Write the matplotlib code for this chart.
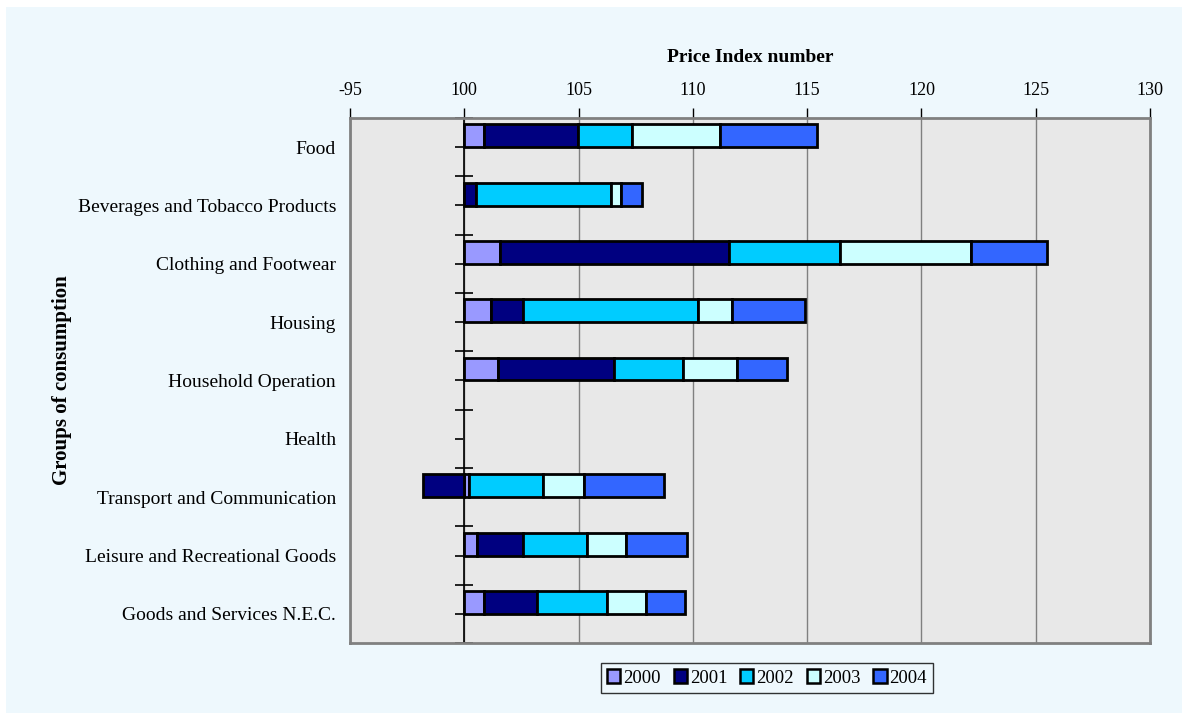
import numpy as np
import matplotlib
matplotlib.use("Agg")
import matplotlib.pyplot as plt
from matplotlib.patches import Rectangle

plt.rcParams['font.family'] = ['Liberation Serif', 'DejaVu Serif']

# categories (top to bottom)
groups = ["Food", "Beverages and Tobacco Products", "Clothing and Footwear", "Housing",
          "Household Operation", "Health", "Transport and Communication",
          "Leisure and Recreational Goods", "Goods and Services N.E.C."]
years = ["2000", "2001", "2002", "2003", "2004"]

# segment widths (bars start at 100)
v2000 = [0.86, 0.00, 1.57, 1.17, 1.46, 0, 0.20, 0.55, 0.86]
v2001 = [4.10, 0.51, 10.01, 1.40, 5.10, 0, -1.82, 2.02, 2.32]
v2002 = [2.39, 5.93, 4.84, 7.67, 2.99, 0, 3.26, 2.78, 3.08]
v2003 = [3.85, 0.41, 5.77, 1.48, 2.36, 0, 1.79, 1.74, 1.69]
v2004 = [4.24, 0.91, 3.31, 3.20, 2.22, 0, 3.50, 2.65, 1.70]

colors = ["#9999FF", "#000080", "#00CCFF", "#CCFFFF", "#3366FF"]
base = 100
xticks = [95, 100, 105, 110, 115, 120, 125, 130]
xticklabels = ["-95", "100", "105", "110", "115", "120", "125", "130"]

bg = "#EEF8FD"
fig = plt.figure(figsize=(11.82, 7.13), dpi=100, facecolor=bg)
# thin white strips on the left and top edge
fig.patches.append(Rectangle((0, 0), 6 / 1182, 1, transform=fig.transFigure,
                             facecolor="white", edgecolor="none", zorder=-10))
fig.patches.append(Rectangle((0, 1 - 7 / 713), 1, 7 / 713, transform=fig.transFigure,
                             facecolor="white", edgecolor="none", zorder=-10))
ax = fig.add_axes([350 / 1182, 1 - 643 / 713, 800 / 1182, 525 / 713])
ax.set_facecolor("#E8E8E8")

y = np.arange(len(groups))
bar_h = 0.39
pos = np.full(len(groups), float(base))
neg = np.full(len(groups), float(base))
for vals, col, lab in zip([v2000, v2001, v2002, v2003, v2004], colors, years):
    vals = np.array(vals, dtype=float)
    left = np.where(vals >= 0, pos, neg)
    lw = np.where(vals == 0, 0, 2)
    ax.barh(y - bar_h, vals, left=left, height=bar_h, align="edge", color=col,
            edgecolor="black", linewidth=lw, label=lab, zorder=3)
    pos = np.where(vals >= 0, pos + vals, pos)
    neg = np.where(vals < 0, neg + vals, neg)

ax.set_xlim(95, 130)
ax.set_ylim(len(groups) - 0.5, -0.5)
ax.set_xticks(xticks)
ax.set_xticklabels(xticklabels)
ax.xaxis.tick_top()
ax.xaxis.set_label_position("top")
ax.tick_params(axis="x", length=7, width=1, labelsize=13, pad=7, color="black")
ax.set_xlabel("Price Index number", fontsize=14, fontweight="bold", labelpad=14)
ax.grid(axis="x", color="#808080", linewidth=1, zorder=1)

ax.set_yticks(y)
ax.set_yticklabels(groups, fontsize=14)
ax.tick_params(axis="y", length=0, pad=10)
ax.set_ylabel("Groups of consumption", fontsize=15, fontweight="bold", labelpad=4)

for s in ["top", "bottom", "left", "right"]:
    ax.spines[s].set_color("#808080")
    ax.spines[s].set_linewidth(2)

# category axis line at 100 with tick marks
ax.axvline(base, color="black", linewidth=1.2, zorder=2)
ax.plot(np.full(len(groups) + 1, base), np.arange(len(groups) + 1) - 0.5, linestyle="none",
        marker="_", markersize=13, markeredgewidth=1.2, color="black", zorder=2, clip_on=False)
ax.plot(np.full(len(groups), base - 0.25), y, linestyle="none",
        marker="_", markersize=6, markeredgewidth=1.2, color="black", zorder=2)

leg = fig.legend(loc="center", bbox_to_anchor=(767 / 1182, 1 - 678 / 713), ncol=5,
                 fontsize=13.5, frameon=True, fancybox=False, handlelength=0.7,
                 handleheight=0.7, handletextpad=0.15, columnspacing=0.7,
                 borderpad=0.35, borderaxespad=0)
leg.get_frame().set_edgecolor("black")
leg.get_frame().set_facecolor(bg)
leg.get_frame().set_linewidth(1)
for h in leg.legend_handles:
    h.set_linewidth(1.8)

fig.savefig("out.png", dpi=100, facecolor=fig.get_facecolor())
